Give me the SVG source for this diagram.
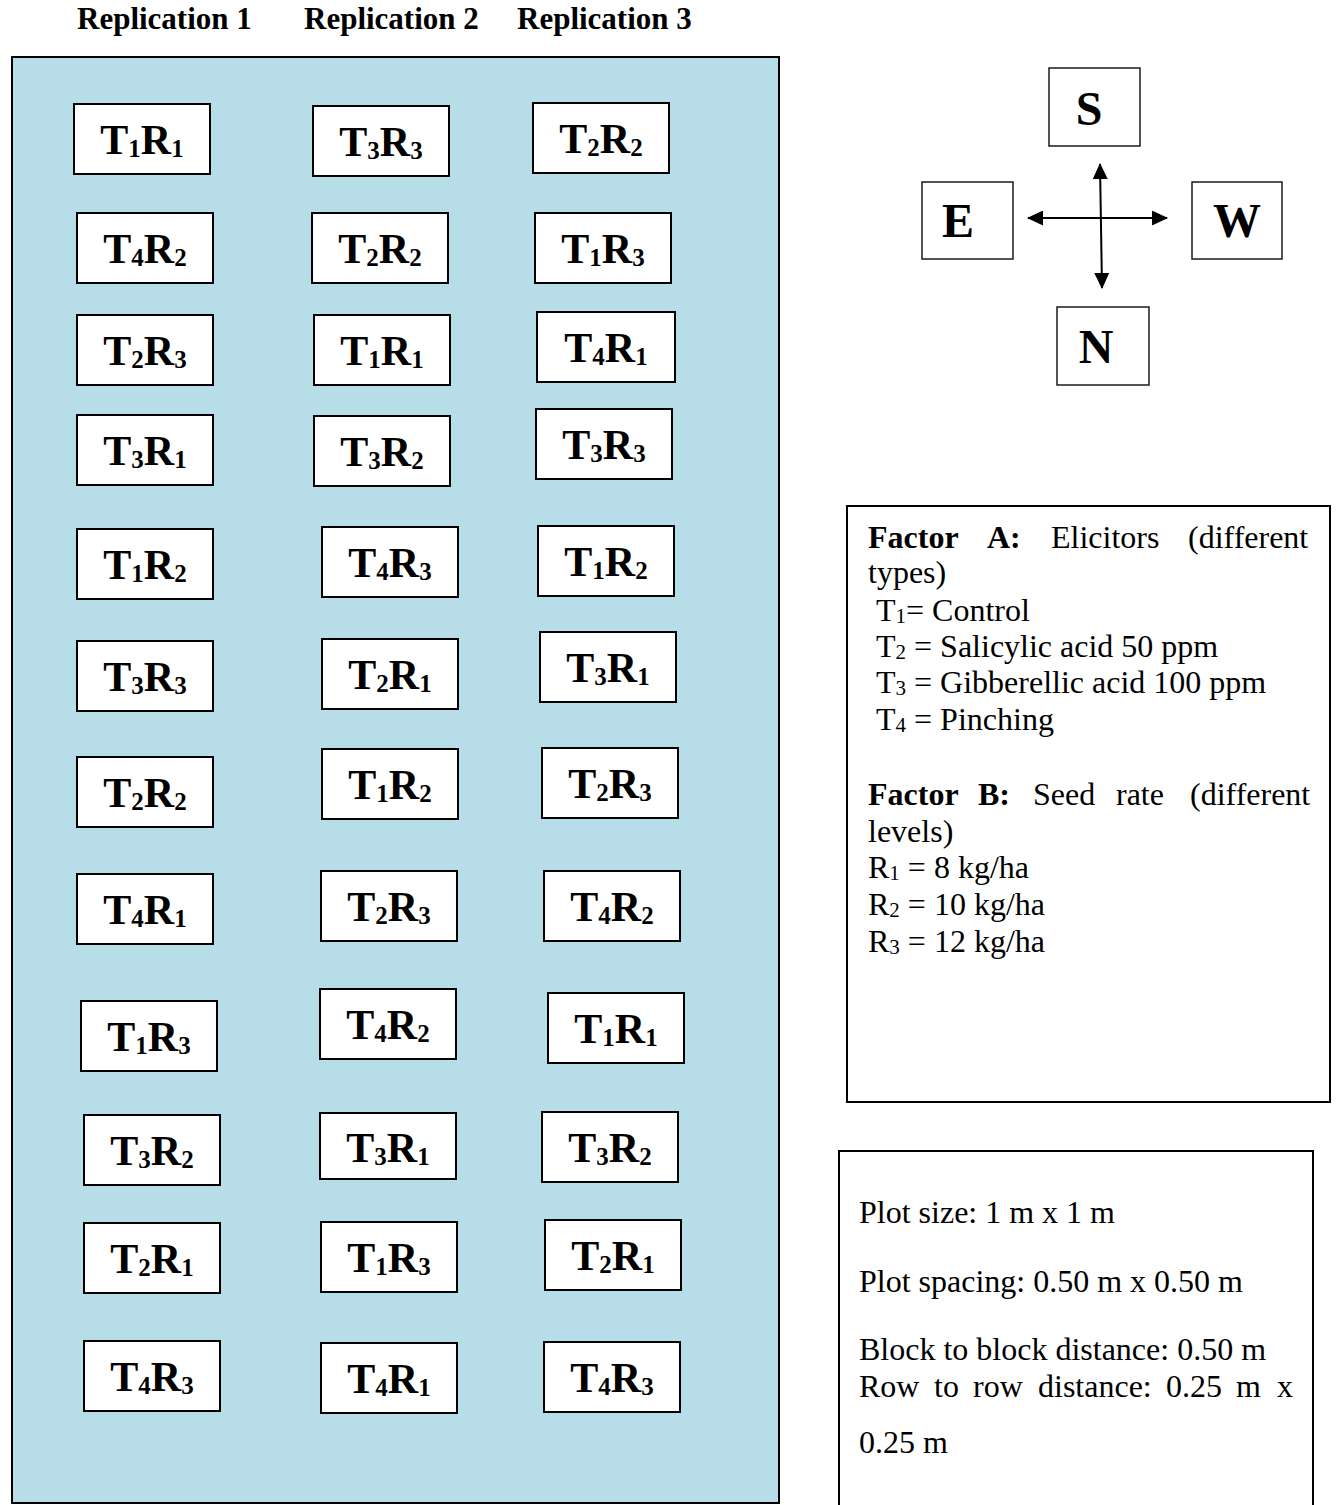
<svg xmlns="http://www.w3.org/2000/svg" width="1337" height="1505" viewBox="0 0 1337 1505">
  <defs>
    <style>
      .hdr { font-family: "Liberation Serif", "Times New Roman", serif; font-weight: bold; font-size: 31px; fill: #000; }
      .field { fill: #b7dde8; stroke: #000; stroke-width: 2; }
      .plot rect { fill: #fff; stroke: #000; stroke-width: 2; }
      .plot text { font-family: "Liberation Serif", "Times New Roman", serif; font-weight: bold; font-size: 42px; fill: #000; text-anchor: middle; }
      .sub { font-size: 25px; }
      .dir rect { fill: #fff; stroke: #1a1a1a; stroke-width: 1.5; }
      .dir text { font-family: "Liberation Serif", "Times New Roman", serif; font-weight: bold; font-size: 48px; fill: #000; text-anchor: middle; }
      .box { fill: #fff; stroke: #000; stroke-width: 2; }
      .leg { font-family: "Liberation Serif", "Times New Roman", serif; font-size: 32px; fill: #000; }
      .leg .b { font-weight: bold; }
      .lsub { font-size: 21px; }
      .arrow { stroke: #000; stroke-width: 2; fill: none; }
    </style>
    <marker id="head" markerWidth="16" markerHeight="15" refX="15" refY="7.5" orient="auto-start-reverse" markerUnits="userSpaceOnUse">
      <path d="M0,0 L16,7.5 L0,15 Z" fill="#000"/>
    </marker>
  </defs>

  <!-- column headings -->
  <g id="headings">
    <text class="hdr" x="77" y="29">Replication 1</text>
    <text class="hdr" x="304" y="29">Replication 2</text>
    <text class="hdr" x="517" y="29">Replication 3</text>
  </g>

  <!-- experimental field -->
  <rect id="field" class="field" x="12" y="57" width="767" height="1446"/>

  <!-- Replication 1 -->
  <g id="rep1">
    <g id="r1-1" class="plot"><rect x="74" y="104" width="136" height="70"/><text x="142" y="154">T<tspan class="sub" dy="3">1</tspan><tspan dy="-3">R</tspan><tspan class="sub" dy="3">1</tspan></text></g>
    <g id="r1-2" class="plot"><rect x="77" y="213" width="136" height="70"/><text x="145" y="263">T<tspan class="sub" dy="3">4</tspan><tspan dy="-3">R</tspan><tspan class="sub" dy="3">2</tspan></text></g>
    <g id="r1-3" class="plot"><rect x="77" y="315" width="136" height="70"/><text x="145" y="365">T<tspan class="sub" dy="3">2</tspan><tspan dy="-3">R</tspan><tspan class="sub" dy="3">3</tspan></text></g>
    <g id="r1-4" class="plot"><rect x="77" y="415" width="136" height="70"/><text x="145" y="465">T<tspan class="sub" dy="3">3</tspan><tspan dy="-3">R</tspan><tspan class="sub" dy="3">1</tspan></text></g>
    <g id="r1-5" class="plot"><rect x="77" y="529" width="136" height="70"/><text x="145" y="579">T<tspan class="sub" dy="3">1</tspan><tspan dy="-3">R</tspan><tspan class="sub" dy="3">2</tspan></text></g>
    <g id="r1-6" class="plot"><rect x="77" y="641" width="136" height="70"/><text x="145" y="691">T<tspan class="sub" dy="3">3</tspan><tspan dy="-3">R</tspan><tspan class="sub" dy="3">3</tspan></text></g>
    <g id="r1-7" class="plot"><rect x="77" y="757" width="136" height="70"/><text x="145" y="807">T<tspan class="sub" dy="3">2</tspan><tspan dy="-3">R</tspan><tspan class="sub" dy="3">2</tspan></text></g>
    <g id="r1-8" class="plot"><rect x="77" y="874" width="136" height="70"/><text x="145" y="924">T<tspan class="sub" dy="3">4</tspan><tspan dy="-3">R</tspan><tspan class="sub" dy="3">1</tspan></text></g>
    <g id="r1-9" class="plot"><rect x="81" y="1001" width="136" height="70"/><text x="149" y="1051">T<tspan class="sub" dy="3">1</tspan><tspan dy="-3">R</tspan><tspan class="sub" dy="3">3</tspan></text></g>
    <g id="r1-10" class="plot"><rect x="84" y="1115" width="136" height="70"/><text x="152" y="1165">T<tspan class="sub" dy="3">3</tspan><tspan dy="-3">R</tspan><tspan class="sub" dy="3">2</tspan></text></g>
    <g id="r1-11" class="plot"><rect x="84" y="1223" width="136" height="70"/><text x="152" y="1273">T<tspan class="sub" dy="3">2</tspan><tspan dy="-3">R</tspan><tspan class="sub" dy="3">1</tspan></text></g>
    <g id="r1-12" class="plot"><rect x="84" y="1341" width="136" height="70"/><text x="152" y="1391">T<tspan class="sub" dy="3">4</tspan><tspan dy="-3">R</tspan><tspan class="sub" dy="3">3</tspan></text></g>
  </g>

  <!-- Replication 2 -->
  <g id="rep2">
    <g id="r2-1" class="plot"><rect x="313" y="106" width="136" height="70"/><text x="381" y="156">T<tspan class="sub" dy="3">3</tspan><tspan dy="-3">R</tspan><tspan class="sub" dy="3">3</tspan></text></g>
    <g id="r2-2" class="plot"><rect x="312" y="213" width="136" height="70"/><text x="380" y="263">T<tspan class="sub" dy="3">2</tspan><tspan dy="-3">R</tspan><tspan class="sub" dy="3">2</tspan></text></g>
    <g id="r2-3" class="plot"><rect x="314" y="315" width="136" height="70"/><text x="382" y="365">T<tspan class="sub" dy="3">1</tspan><tspan dy="-3">R</tspan><tspan class="sub" dy="3">1</tspan></text></g>
    <g id="r2-4" class="plot"><rect x="314" y="416" width="136" height="70"/><text x="382" y="466">T<tspan class="sub" dy="3">3</tspan><tspan dy="-3">R</tspan><tspan class="sub" dy="3">2</tspan></text></g>
    <g id="r2-5" class="plot"><rect x="322" y="527" width="136" height="70"/><text x="390" y="577">T<tspan class="sub" dy="3">4</tspan><tspan dy="-3">R</tspan><tspan class="sub" dy="3">3</tspan></text></g>
    <g id="r2-6" class="plot"><rect x="322" y="639" width="136" height="70"/><text x="390" y="689">T<tspan class="sub" dy="3">2</tspan><tspan dy="-3">R</tspan><tspan class="sub" dy="3">1</tspan></text></g>
    <g id="r2-7" class="plot"><rect x="322" y="749" width="136" height="70"/><text x="390" y="799">T<tspan class="sub" dy="3">1</tspan><tspan dy="-3">R</tspan><tspan class="sub" dy="3">2</tspan></text></g>
    <g id="r2-8" class="plot"><rect x="321" y="871" width="136" height="70"/><text x="389" y="921">T<tspan class="sub" dy="3">2</tspan><tspan dy="-3">R</tspan><tspan class="sub" dy="3">3</tspan></text></g>
    <g id="r2-9" class="plot"><rect x="320" y="989" width="136" height="70"/><text x="388" y="1039">T<tspan class="sub" dy="3">4</tspan><tspan dy="-3">R</tspan><tspan class="sub" dy="3">2</tspan></text></g>
    <g id="r2-10" class="plot"><rect x="320" y="1113" width="136" height="66"/><text x="388" y="1162">T<tspan class="sub" dy="3">3</tspan><tspan dy="-3">R</tspan><tspan class="sub" dy="3">1</tspan></text></g>
    <g id="r2-11" class="plot"><rect x="321" y="1222" width="136" height="70"/><text x="389" y="1272">T<tspan class="sub" dy="3">1</tspan><tspan dy="-3">R</tspan><tspan class="sub" dy="3">3</tspan></text></g>
    <g id="r2-12" class="plot"><rect x="321" y="1343" width="136" height="70"/><text x="389" y="1393">T<tspan class="sub" dy="3">4</tspan><tspan dy="-3">R</tspan><tspan class="sub" dy="3">1</tspan></text></g>
  </g>

  <!-- Replication 3 -->
  <g id="rep3">
    <g id="r3-1" class="plot"><rect x="533" y="103" width="136" height="70"/><text x="601" y="153">T<tspan class="sub" dy="3">2</tspan><tspan dy="-3">R</tspan><tspan class="sub" dy="3">2</tspan></text></g>
    <g id="r3-2" class="plot"><rect x="535" y="213" width="136" height="70"/><text x="603" y="263">T<tspan class="sub" dy="3">1</tspan><tspan dy="-3">R</tspan><tspan class="sub" dy="3">3</tspan></text></g>
    <g id="r3-3" class="plot"><rect x="537" y="312" width="138" height="70"/><text x="606" y="362">T<tspan class="sub" dy="3">4</tspan><tspan dy="-3">R</tspan><tspan class="sub" dy="3">1</tspan></text></g>
    <g id="r3-4" class="plot"><rect x="536" y="409" width="136" height="70"/><text x="604" y="459">T<tspan class="sub" dy="3">3</tspan><tspan dy="-3">R</tspan><tspan class="sub" dy="3">3</tspan></text></g>
    <g id="r3-5" class="plot"><rect x="538" y="526" width="136" height="70"/><text x="606" y="576">T<tspan class="sub" dy="3">1</tspan><tspan dy="-3">R</tspan><tspan class="sub" dy="3">2</tspan></text></g>
    <g id="r3-6" class="plot"><rect x="540" y="632" width="136" height="70"/><text x="608" y="682">T<tspan class="sub" dy="3">3</tspan><tspan dy="-3">R</tspan><tspan class="sub" dy="3">1</tspan></text></g>
    <g id="r3-7" class="plot"><rect x="542" y="748" width="136" height="70"/><text x="610" y="798">T<tspan class="sub" dy="3">2</tspan><tspan dy="-3">R</tspan><tspan class="sub" dy="3">3</tspan></text></g>
    <g id="r3-8" class="plot"><rect x="544" y="871" width="136" height="70"/><text x="612" y="921">T<tspan class="sub" dy="3">4</tspan><tspan dy="-3">R</tspan><tspan class="sub" dy="3">2</tspan></text></g>
    <g id="r3-9" class="plot"><rect x="548" y="993" width="136" height="70"/><text x="616" y="1043">T<tspan class="sub" dy="3">1</tspan><tspan dy="-3">R</tspan><tspan class="sub" dy="3">1</tspan></text></g>
    <g id="r3-10" class="plot"><rect x="542" y="1112" width="136" height="70"/><text x="610" y="1162">T<tspan class="sub" dy="3">3</tspan><tspan dy="-3">R</tspan><tspan class="sub" dy="3">2</tspan></text></g>
    <g id="r3-11" class="plot"><rect x="545" y="1220" width="136" height="70"/><text x="613" y="1270">T<tspan class="sub" dy="3">2</tspan><tspan dy="-3">R</tspan><tspan class="sub" dy="3">1</tspan></text></g>
    <g id="r3-12" class="plot"><rect x="544" y="1342" width="136" height="70"/><text x="612" y="1392">T<tspan class="sub" dy="3">4</tspan><tspan dy="-3">R</tspan><tspan class="sub" dy="3">3</tspan></text></g>
  </g>

  <!-- compass -->
  <g id="dir-s" class="dir"><rect x="1049" y="68" width="91" height="78"/><text x="1089" y="125">S</text></g>
  <g id="dir-e" class="dir"><rect x="922" y="182" width="91" height="77"/><text x="958" y="237">E</text></g>
  <g id="dir-w" class="dir"><rect x="1192" y="182" width="90" height="77"/><text x="1237" y="237">W</text></g>
  <g id="dir-n" class="dir"><rect x="1057" y="307" width="92" height="78"/><text x="1096" y="363">N</text></g>

  <g id="connectors">
    <line class="arrow" x1="1028" y1="218" x2="1167" y2="218" marker-start="url(#head)" marker-end="url(#head)"/>
    <line class="arrow" x1="1100" y1="164" x2="1102" y2="288" marker-start="url(#head)" marker-end="url(#head)"/>
  </g>

  <!-- factor legend -->
  <g id="factors">
    <rect class="box" x="847" y="506" width="483" height="596"/>
    <g class="leg">
      <text y="548"><tspan class="b" x="868">Factor</tspan><tspan class="b" x="987">A:</tspan><tspan x="1051">Elicitors</tspan><tspan x="1188">(different</tspan></text>
      <text x="868" y="583">types)</text>
      <text x="876" y="621">T<tspan class="lsub" dy="2">1</tspan><tspan dy="-2">= Control</tspan></text>
      <text x="876" y="657">T<tspan class="lsub" dy="2">2</tspan><tspan dy="-2"> = Salicylic acid 50 ppm</tspan></text>
      <text x="876" y="693">T<tspan class="lsub" dy="2">3</tspan><tspan dy="-2"> = Gibberellic acid 100 ppm</tspan></text>
      <text x="876" y="730">T<tspan class="lsub" dy="2">4</tspan><tspan dy="-2"> = Pinching</tspan></text>
      <text y="805"><tspan class="b" x="868">Factor</tspan><tspan class="b" x="978">B:</tspan><tspan x="1033">Seed</tspan><tspan x="1116">rate</tspan><tspan x="1190">(different</tspan></text>
      <text x="868" y="842">levels)</text>
      <text x="868" y="878">R<tspan class="lsub" dy="2">1</tspan><tspan dy="-2"> = 8 kg/ha</tspan></text>
      <text x="868" y="915">R<tspan class="lsub" dy="2">2</tspan><tspan dy="-2"> = 10 kg/ha</tspan></text>
      <text x="868" y="952">R<tspan class="lsub" dy="2">3</tspan><tspan dy="-2"> = 12 kg/ha</tspan></text>
    </g>
  </g>

  <!-- plot dimensions -->
  <g id="dimensions">
    <rect class="box" x="839" y="1151" width="474" height="380"/>
    <g class="leg">
      <text x="859" y="1223">Plot size: 1 m x 1 m</text>
      <text x="859" y="1292">Plot spacing: 0.50 m x 0.50 m</text>
      <text x="859" y="1360">Block to block distance: 0.50 m</text>
      <text y="1397"><tspan x="859">Row</tspan><tspan x="934">to</tspan><tspan x="973">row</tspan><tspan x="1038">distance:</tspan><tspan x="1166">0.25</tspan><tspan x="1236">m</tspan><tspan x="1277">x</tspan></text>
      <text x="859" y="1453">0.25 m</text>
    </g>
  </g>
</svg>
